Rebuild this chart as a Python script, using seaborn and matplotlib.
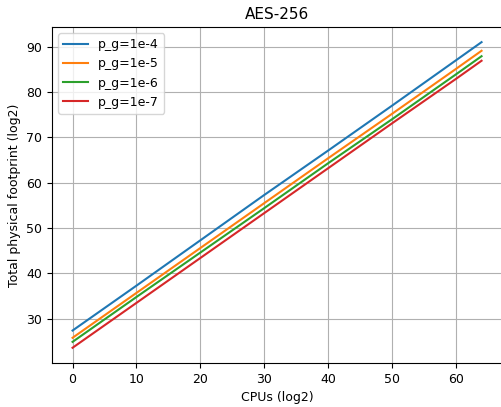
import matplotlib
matplotlib.use("Agg")
import matplotlib.pyplot as plt
import seaborn as sns
import pandas as pd

cpus = [0, 10, 20, 30, 40, 50, 60, 64]
pg_1e4 = [27.4, 37.3, 47.3, 57.3, 67.1, 77.0, 87.0, 91.0]
pg_1e5 = [25.8, 35.7, 45.6, 55.5, 65.4, 75.2, 85.1, 89.1]
pg_1e6 = [24.9, 34.8, 44.6, 54.4, 64.3, 74.0, 83.9, 87.9]
pg_1e7 = [23.6, 33.5, 43.4, 53.3, 63.2, 73.1, 82.9, 86.9]
labels = ["p_g=1e-4", "p_g=1e-5", "p_g=1e-6", "p_g=1e-7"]

rows = []
for lab, ys in zip(labels, [pg_1e4, pg_1e5, pg_1e6, pg_1e7]):
    for x, y in zip(cpus, ys):
        rows.append({"x": x, "y": y, "series": lab})
df = pd.DataFrame(rows)

fig = plt.figure(figsize=(5.01, 4.07), dpi=100)
ax = fig.add_axes([0.104, 0.108, 0.898, 0.826])
sns.lineplot(data=df, x="x", y="y", hue="series", palette="tab10", ax=ax, linewidth=1.5)
ax.grid(True, color="#b0b0b0", linewidth=0.8)
ax.set_axisbelow(True)
ax.set_title("AES-256", fontsize=11)
ax.set_xlabel("CPUs (log2)", fontsize=9)
ax.set_ylabel("Total physical footprint (log2)", fontsize=9)
ax.tick_params(labelsize=9)
ax.set_xticks([0, 10, 20, 30, 40, 50, 60])
ax.set_yticks([30, 40, 50, 60, 70, 80, 90])
ax.margins(x=0.05, y=0.05)
ax.legend(title=None, loc="upper left", fontsize=9)
fig.savefig("out.png", dpi=100)
